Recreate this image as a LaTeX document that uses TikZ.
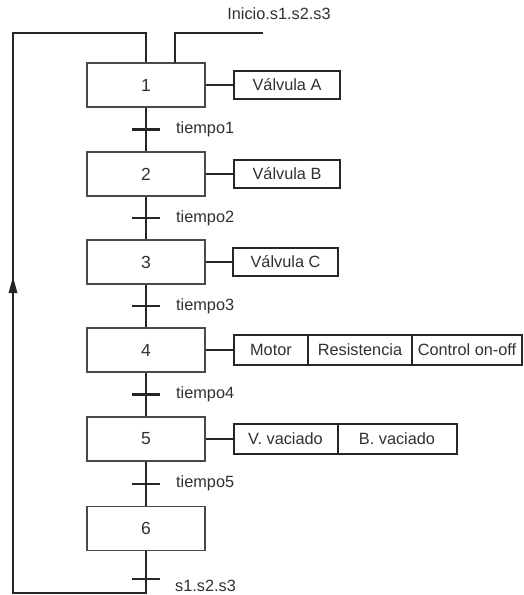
\documentclass[tikz,border=0pt]{standalone}
\usepackage{fontspec}
\setmainfont{Liberation Sans}
\usetikzlibrary{arrows.meta,calc}
\definecolor{inkline}{HTML}{262626}
\definecolor{inkstep}{HTML}{4a4a4a}
\definecolor{inktext}{HTML}{303030}
\begin{document}
\begin{tikzpicture}[x=1pt,y=-1pt,
  font=\fontsize{16.3}{19}\selectfont,
  stepbox/.style={draw=inkstep, line width=1.8pt, minimum width=118pt,
    minimum height=44pt, inner sep=0pt, text=inktext,
    font=\fontsize{17.5}{20}\selectfont},
  actbox/.style={draw=inkline, line width=2pt, minimum height=28pt,
    inner sep=0pt, text=inktext},
  link/.style={draw=inkline, line width=2.2pt},
  trbar/.style={draw=inkline, line width=2.2pt},
  trlabel/.style={anchor=west, text=inktext, inner sep=0pt}]
\useasboundingbox (0,0) rectangle (523,595);

% steps
\node[stepbox] (s1) at (146,85) {1};
\node[stepbox] (s2) at (146,174) {2};
\node[stepbox] (s3) at (146,262) {3};
\node[stepbox] (s4) at (146,350) {4};
\node[stepbox] (s5) at (146,439) {5};
\node[stepbox] (s6) at (146,528.5) {6};

% actions
\node[actbox, minimum width=106pt] (a1) at (287,85) {Válvula A};
\node[actbox, minimum width=106pt] (a2) at (287,174) {Válvula B};
\node[actbox, minimum width=105pt] (a3) at (285.5,262) {Válvula C};
\node[actbox, minimum width=74pt, minimum height=30pt] (a4a) at (271,350) {Motor};
\node[actbox, minimum width=104pt, minimum height=30pt] (a4b) at (360,350) {Resistencia};
\node[actbox, minimum width=110pt, minimum height=30pt] (a4c) at (467,350) {Control on-off};
\node[actbox, minimum width=104pt, minimum height=30pt] (a5a) at (285.5,439) {V. vaciado};
\node[actbox, minimum width=119pt, minimum height=30pt] (a5b) at (397,439) {B. vaciado};

\foreach \s/\a in {s1/a1, s2/a2, s3/a3, s4/a4a, s5/a5a}
  \draw[link] (\s.east) -- (\a.west);

% links between steps with transition bars
\foreach \u/\l/\n in {s1/s2/1, s2/s3/2, s3/s4/3, s4/s5/4, s5/s6/5} {
  \draw[link] (\u.south) -- (\l.north);
  \coordinate (t\n) at ($(\u.south)!0.5!(\l.north)$);
}
\foreach \n in {1,...,5} {
  \draw[trbar] ([xshift=-14pt]t\n) -- ([xshift=14pt]t\n);
  \node[trlabel] at ([xshift=30pt]t\n) {tiempo\n};
}

% loop back from step 6 to step 1
\coordinate (t6) at (146,579);
\coordinate (lb) at (146,593);
\coordinate (ll) at (13,593);
\coordinate (lt) at (13,33);
\coordinate (lr) at (146,33);
\draw[link] (s6.south) -- (lb) -- (ll) -- (lt) -- (lr) -- (s1.north);
\draw[trbar] ([xshift=-14pt]t6) -- ([xshift=14pt]t6);
\node[trlabel] at ([xshift=29pt,yshift=-7pt]t6) {s1.s2.s3};
\fill[inkline] (13,277) -- (17.5,293) -- (8.5,293) -- cycle;

% initial input
\coordinate (ib) at (175,63);
\coordinate (ic) at (175,33);
\coordinate (ie) at (263,33);
\draw[link] (ib) -- (ic) -- (ie);
\node[text=inktext, inner sep=0pt] (init) at (279,14) {Inicio.s1.s2.s3};
\end{tikzpicture}
\end{document}
